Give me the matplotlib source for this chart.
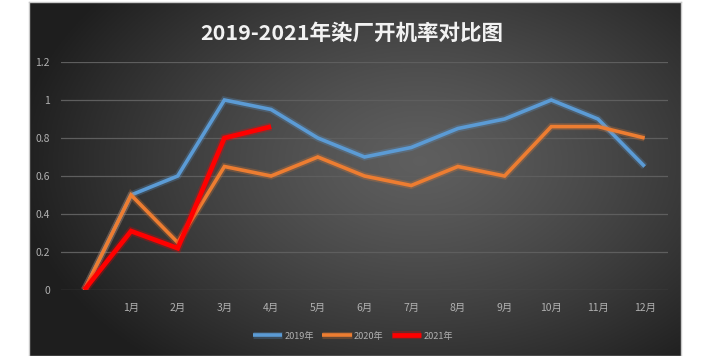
import numpy as np
import matplotlib
matplotlib.use("Agg")
import matplotlib.pyplot as plt
import matplotlib.patheffects as pe

plt.rcParams['font.family'] = ['Noto Sans CJK SC', 'DejaVu Sans']

categories = ["", "1月", "2月", "3月", "4月", "5月", "6月", "7月", "8月", "9月", "10月", "11月", "12月"]
s2019 = [0, 0.5, 0.6, 1.0, 0.95, 0.8, 0.7, 0.75, 0.85, 0.9, 1.0, 0.9, 0.65]
s2020 = [0, 0.5, 0.25, 0.65, 0.6, 0.7, 0.6, 0.55, 0.65, 0.6, 0.86, 0.86, 0.8]
s2021 = [0, 0.31, 0.22, 0.8, 0.86]
yticks = [0, 0.2, 0.4, 0.6, 0.8, 1, 1.2]
ytick_labels = ["0", "0.2", "0.4", "0.6", "0.8", "1", "1.2"]
title = "2019-2021年染厂开机率对比图"

W, H = 712, 356
fig = plt.figure(figsize=(W/100, H/100), dpi=100)
fig.patch.set_facecolor("white")

# background panel with radial gradient
bg = fig.add_axes([29/W, 0, 652/W, (H-1.5)/H])
ny, nx = 200, 400
yy, xx = np.mgrid[0:1:ny*1j, 0:1:nx*1j]
d = np.sqrt(((xx-0.6)/0.62)**2 + ((yy-0.45)/0.75)**2)
d = np.clip(d, 0, 1)
v = 0.37 - (0.37-0.12)*d**1.3
img = np.dstack([v, v, v])
bg.imshow(img, aspect='auto', extent=[0, 1, 0, 1], origin='upper')
bg.set_xlim(0, 1); bg.set_ylim(0, 1)
bg.set_xticks([]); bg.set_yticks([])
for s in bg.spines.values():
    s.set_color("#c8c8c8"); s.set_linewidth(1.0)

ax = fig.add_axes([61/W, (H-290)/H, 607/W, 228/H])
ax.set_facecolor("none")
x = np.arange(len(categories))
cols = {"2019年": "#5B9BD5", "2020年": "#ED7D31", "2021年": "#FF0000"}
for name, vals, lw in [("2019年", s2019, 2.6), ("2020年", s2020, 2.6), ("2021年", s2021, 3.4)]:
    c = cols[name]
    ax.plot(x[:len(vals)], vals, color=c, lw=lw, label=name, solid_joinstyle='miter',
            solid_capstyle='butt',
            path_effects=[pe.Stroke(linewidth=lw+2.5, foreground=c, alpha=0.25), pe.Normal()])

ax.set_xlim(-0.5, len(categories)-0.5)
ax.set_ylim(0, 1.2)
ax.set_yticks(yticks)
ax.set_yticklabels(ytick_labels)
ax.set_xticks(x)
ax.set_xticklabels(categories)
ax.grid(axis='y', color="#5e5e5e", lw=0.9)
ax.set_axisbelow(True)
for s in ax.spines.values():
    s.set_visible(False)
ax.tick_params(axis='both', length=0, colors="#b0b0b0", labelsize=7.5)
ax.tick_params(axis='y', pad=8)
ax.tick_params(axis='x', pad=9)

fig.text(352/W, 1-33/H, title, ha='center', va='center', fontsize=15.5, fontweight='bold', color="#f2f2f2")

leg = ax.legend(loc='center', bbox_to_anchor=(353/W, 1-336/H), bbox_transform=fig.transFigure,
                ncol=3, frameon=False, fontsize=6.6, handlelength=3.2, handletextpad=0.25,
                columnspacing=0.9)
for t in leg.get_texts():
    t.set_color("#b0b0b0")

fig.savefig("out.png", dpi=100, facecolor="white")
